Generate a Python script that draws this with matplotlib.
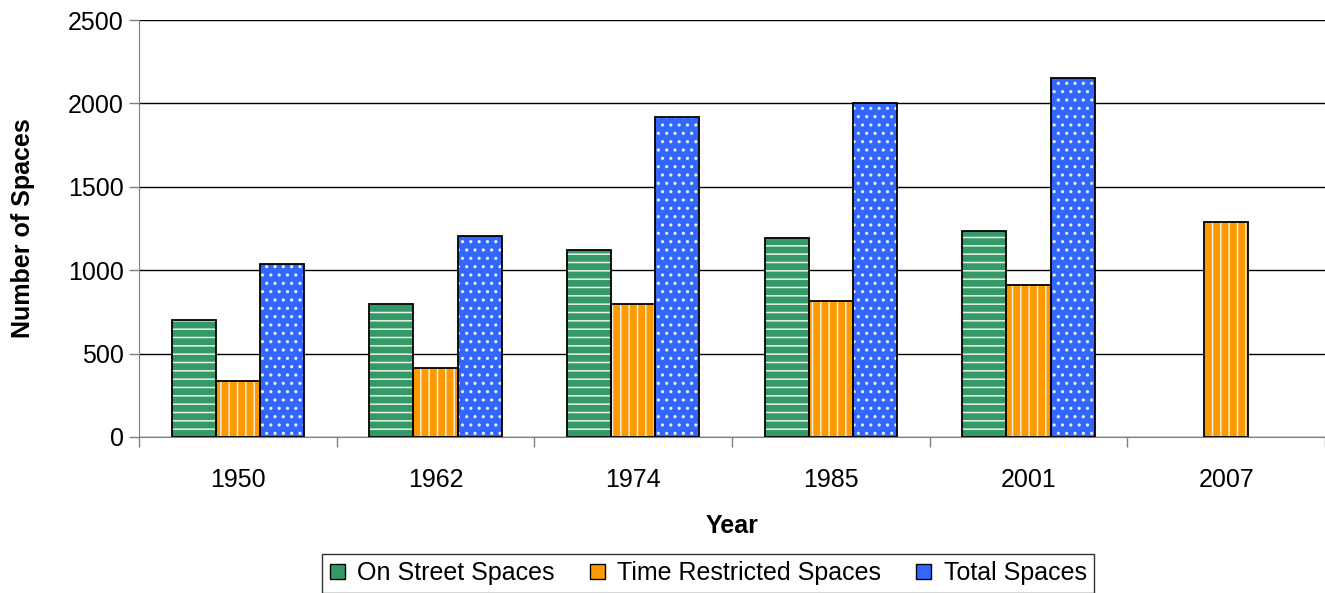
import numpy as np
import matplotlib.pyplot as plt
from matplotlib.patches import Patch

years = ["1950", "1962", "1974", "1985", "2001", "2007"]
on_street = [700, 795, 1120, 1195, 1235, np.nan]
time_restricted = [335, 415, 795, 815, 910, 1290]
total = [1035, 1205, 1920, 2000, 2150, np.nan]

plt.rcParams['font.family'] = ['Liberation Sans', 'DejaVu Sans']
plt.rcParams['hatch.linewidth'] = 1.1

fig = plt.figure(figsize=(13.25, 5.93), dpi=100)
ax = fig.add_axes([139/1325, 1 - 437/593, 1186/1325, 417/593])

x = np.arange(len(years))
w = 0.223
series = [
    (on_street, "#339966", "--", "On Street Spaces"),
    (time_restricted, "#FF9900", "||", "Time Restricted Spaces"),
    (total, "#3366FF", "..", "Total Spaces"),
]

handles = []
for i, (vals, col, hatch, lab) in enumerate(series):
    pos = x + (i - 1) * w
    v = np.array(vals, dtype=float)
    ok = ~np.isnan(v)
    ax.bar(pos[ok], v[ok], w, color=col, edgecolor="#e8f0e8", hatch=hatch,
           linewidth=0, zorder=3)
    ax.bar(pos[ok], v[ok], w, fill=False, edgecolor="black", linewidth=1.3,
           zorder=4)
    handles.append(Patch(facecolor=col, edgecolor="black", linewidth=1, label=lab))

ax.set_ylim(0, 2500)
ax.set_yticks(range(0, 2501, 500))
ax.set_xlim(-0.5, len(years) - 0.5)
ax.yaxis.grid(True, color="black", linewidth=1, zorder=0)
ax.set_axisbelow(True)

ax.set_xticks(x)
ax.set_xticklabels(years)
ax.set_xticks(np.arange(-0.5, len(years)), minor=True)
ax.tick_params(axis="x", which="major", length=0, pad=22, labelsize=18)
ax.tick_params(axis="x", which="minor", length=7, width=1, color="gray")
ax.tick_params(axis="y", length=7, width=1, color="gray", labelsize=18, pad=4)

for s in ["top", "right"]:
    ax.spines[s].set_visible(False)
ax.spines["left"].set_color("gray")
ax.spines["bottom"].set_color("gray")

ax.set_ylabel("Number of Spaces", fontsize=18, fontweight="bold", labelpad=24)
ax.set_xlabel("Year", fontsize=18, fontweight="bold", labelpad=16)

leg = ax.legend(handles=handles, loc="upper center", bbox_to_anchor=(0.48, -0.25),
                ncol=3, fontsize=18, frameon=True, fancybox=False,
                edgecolor="black", handlelength=0.6, handleheight=0.6,
                handletextpad=0.5, columnspacing=1.4, borderpad=0.3)
leg.get_frame().set_linewidth(1)

fig.savefig("out.png", dpi=100)
